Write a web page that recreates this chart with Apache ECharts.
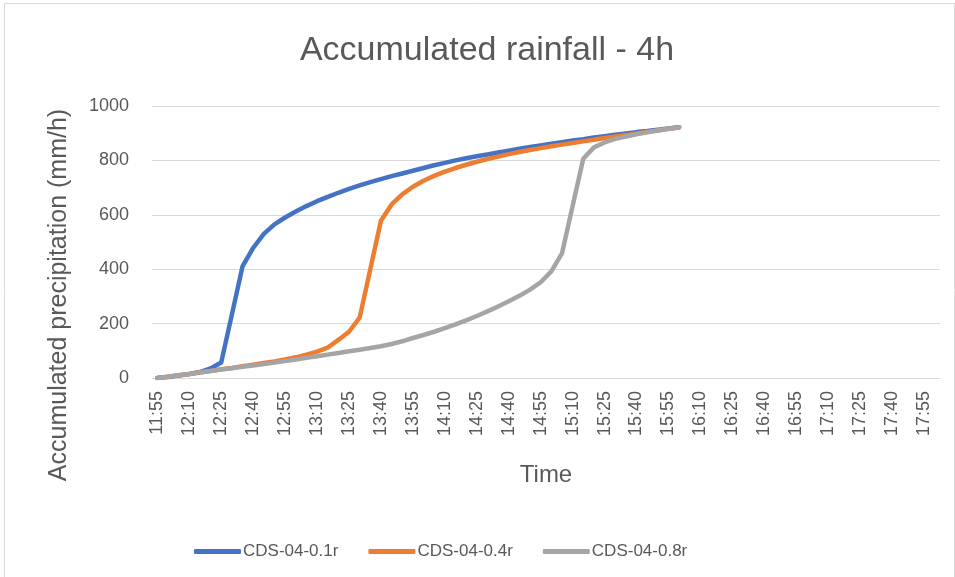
<!DOCTYPE html>
<html>
<head>
<meta charset="utf-8">
<script src="https://cdn.jsdelivr.net/npm/echarts@6/dist/echarts.min.js"></script>
<style>html,body{margin:0;padding:0;background:#fff}#c{width:955px;height:577px}</style>
</head>
<body>
<div id="c"></div>
<script>
// Categories: 5-minute steps from 11:55 to 18:00
var categories = [];
(function(){
  for (var m = 11*60+55; m <= 18*60; m += 5) {
    var h = Math.floor(m/60), mm = m % 60;
    categories.push(h + ':' + (mm < 10 ? '0' : '') + mm);
  }
})();

var seriesNames = ['CDS-04-0.1r', 'CDS-04-0.4r', 'CDS-04-0.8r'];

var cds01 = [0,4,9,15,22,35,57,233,410,478,530,565,590,612,632,650,666,681,695,708,
  720,731,742,752,762,772,782,791,800,808,815,822,829,836,843,849,855,861,867,873,
  878,884,889,894,899,904,908,913,917,922];

var cds04 = [0,5,10,15,21,26,32,37,43,49,55,61,68,76,86,97,112,140,170,222,
  400,578,638,675,703,725,743,759,772,784,795,805,814,823,831,838,845,852,858,864,
  870,876,882,888,893,899,905,910,916,921];

var cds08 = [0,5,10,15,20,26,31,36,41,46,51,57,62,68,74,80,86,92,98,104,
  110,117,125,135,147,158,170,183,197,212,228,245,263,282,302,325,352,392,458,632,
  806,848,866,879,888,896,903,910,916,922];

var yTicks = {min: 0, max: 1000, interval: 200};

var colors = ['#4472C4', '#ED7D31', '#A5A5A5'];
var txt = '#595959';
var font = 'Liberation Sans';

var chart = echarts.init(document.getElementById('c'), null, {renderer: 'canvas'});
function mk(name, data, color) {
  return {
    name: name, type: 'line', data: data, showSymbol: false, symbol: 'none',
    smooth: false,
    lineStyle: {width: 4.5, color: color, cap: 'round', join: 'round'},
    itemStyle: {color: color},
    emphasis: {disabled: true}, animation: false
  };
}
chart.setOption({
  animation: false,
  backgroundColor: '#fff',
  grid: {left: 152, right: 15, top: 106, bottom: 199, containLabel: false},
  legend: {
    left: 189, top: 538, itemWidth: 47, itemHeight: 5, itemGap: 30,
    icon: 'roundRect',
    textStyle: {fontFamily: font, fontSize: 17, color: txt, padding: [0,0,0,-3]},
    data: seriesNames
  },
  xAxis: {
    type: 'category', data: categories, boundaryGap: true,
    name: 'Time', nameLocation: 'middle', nameGap: 85,
    nameTextStyle: {fontFamily: font, fontSize: 24, color: txt},
    axisLine: {show: true, lineStyle: {color: '#D9D9D9', width: 1}},
    axisTick: {show: false},
    axisLabel: {interval: 2, rotate: 90, margin: 13, fontFamily: font, fontSize: 18, color: txt},
    splitLine: {show: false}
  },
  yAxis: {
    type: 'value', min: yTicks.min, max: yTicks.max, interval: yTicks.interval,
    axisLine: {show: false}, axisTick: {show: false},
    axisLabel: {margin: 23, fontFamily: font, fontSize: 18, color: txt,
      formatter: function (v) { return String(v); }},
    splitLine: {lineStyle: {color: '#D9D9D9', width: 1}}
  },
  graphic: [{
    type: 'rect', left: 2, top: 1, silent: true,
    shape: {width: 950, height: 574},
    style: {fill: 'none', stroke: '#D9D9D9', lineWidth: 1}
  }, {
    type: 'text', x: 487, y: 51, silent: true,
    style: {text: 'Accumulated rainfall - 4h', font: '34px "Liberation Sans"', fill: txt,
      textAlign: 'center', textVerticalAlign: 'middle'}
  }, {
    type: 'text', x: 59, y: 295, rotation: Math.PI / 2, silent: true,
    style: {text: 'Accumulated precipitation (mm/h)', font: '25px "Liberation Sans"', fill: txt,
      textAlign: 'center', textVerticalAlign: 'middle'}
  }],
  series: [
    mk(seriesNames[0], cds01, colors[0]),
    mk(seriesNames[1], cds04, colors[1]),
    mk(seriesNames[2], cds08, colors[2])
  ]
});
</script>
</body>
</html>
